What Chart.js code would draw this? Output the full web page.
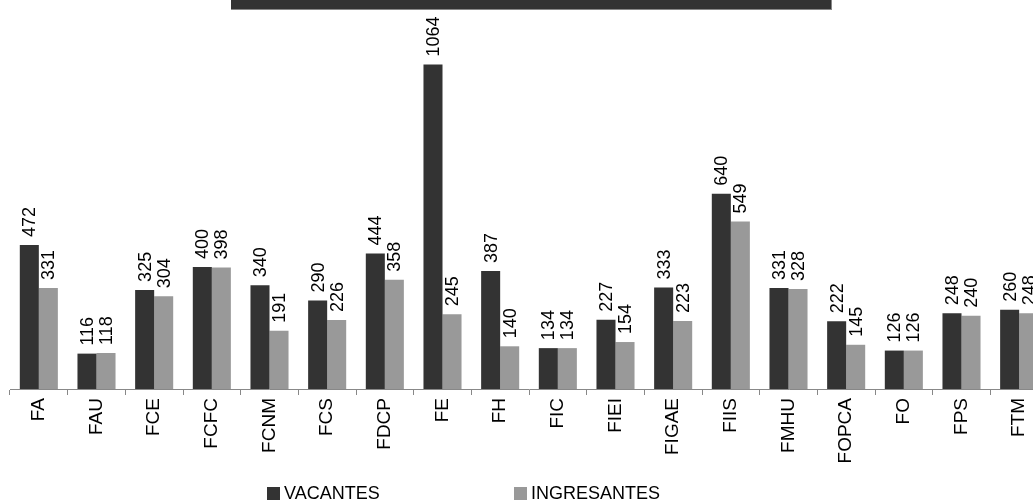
<!DOCTYPE html>
<html>
<head>
<meta charset="utf-8">
<script src="https://cdn.jsdelivr.net/npm/chart.js@4.4.1/dist/chart.umd.min.js"></script>
<style>
  html, body { margin: 0; padding: 0; background: #fff; overflow: hidden; }
  #wrap { position: relative; width: 1033px; height: 502px; overflow: hidden; }
  #titulo { position: absolute; left: 231px; top: 0; width: 600px; height: 9px;
            background: #333; border-bottom: 1px solid #888; border-right: 1px solid #888; }
  canvas { position: absolute; left: 0; top: 0; }
</style>
</head>
<body>
<div id="wrap">
  <canvas id="grafico" width="1060" height="502"></canvas>
  <div id="titulo"></div>
</div>
<script>
// Facultades
const facultades = ['FA', 'FAU', 'FCE', 'FCFC', 'FCNM', 'FCS', 'FDCP', 'FE', 'FH',
    'FIC', 'FIEI', 'FIGAE', 'FIIS', 'FMHU', 'FOPCA', 'FO', 'FPS', 'FTM'];

// Series
const vacantes    = [472, 116, 325, 400, 340, 290, 444, 1064, 387, 134, 227, 333, 640, 331, 222, 126, 248, 260];
const ingresantes = [331, 118, 304, 398, 191, 226, 358, 245, 140, 134, 154, 223, 549, 328, 145, 126, 240, 248];

const fuente = '"Liberation Sans", Arial, sans-serif';

// etiquetas de valor giradas encima de cada barra
const etiquetasValor = {
    id: 'etiquetasValor',
    afterDatasetsDraw(chart) {
        const ctx = chart.ctx;
        ctx.save();
        ctx.fillStyle = '#000';
        ctx.font = '18px ' + fuente;
        ctx.textAlign = 'left';
        ctx.textBaseline = 'middle';
        chart.data.datasets.forEach((ds, i) => {
            chart.getDatasetMeta(i).data.forEach((bar, j) => {
                ctx.save();
                ctx.translate(bar.x, bar.y - 8);
                ctx.rotate(-Math.PI / 2);
                ctx.fillText(String(ds.data[j]), 0, 1);
                ctx.restore();
            });
        });
        ctx.restore();
    }
};

// leyenda abajo
const leyenda = {
    id: 'leyenda',
    afterDraw(chart) {
        const ctx = chart.ctx;
        const posX = [267, 514];
        ctx.save();
        ctx.font = '18px ' + fuente;
        ctx.textBaseline = 'middle';
        ctx.textAlign = 'left';
        chart.data.datasets.forEach((ds, i) => {
            ctx.fillStyle = ds.backgroundColor;
            ctx.fillRect(posX[i], 487, 13, 13);
            ctx.fillStyle = '#000';
            ctx.fillText(ds.label, posX[i] + 17, 494);
        });
        ctx.restore();
    }
};

new Chart(document.getElementById('grafico'), {
    type: 'bar',
    data: {
        labels: facultades,
        datasets: [
            { label: 'VACANTES', data: vacantes, backgroundColor: '#333333' },
            { label: 'INGRESANTES', data: ingresantes, backgroundColor: '#999999' }
        ]
    },
    options: {
        responsive: false,
        animation: false,
        devicePixelRatio: 1,
        layout: { padding: { left: 10, right: 12, top: 23, bottom: 0 } },
        datasets: { bar: { barPercentage: 1.0, categoryPercentage: 0.66 } },
        plugins: {
            legend: { display: false },
            tooltip: { enabled: false }
        },
        scales: {
            x: {
                afterFit: s => { s.height = 113; },
                grid: { offset: true, drawOnChartArea: false, tickLength: 6, color: '#888' },
                border: { color: '#888' },
                ticks: {
                    autoSkip: false,
                    minRotation: 90,
                    maxRotation: 90,
                    padding: 3,
                    color: '#000',
                    font: { family: fuente, size: 19 }
                }
            },
            y: { display: false, min: 0, max: 1200 }
        }
    },
    plugins: [etiquetasValor, leyenda]
});
</script>
</body>
</html>
